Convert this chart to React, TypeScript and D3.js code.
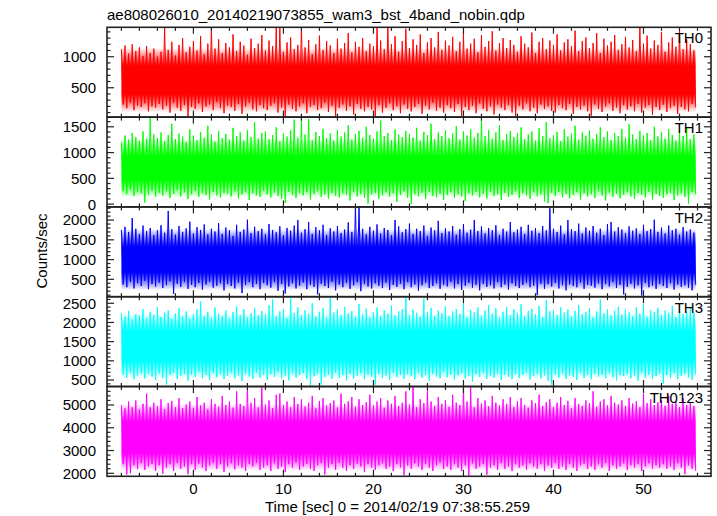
import React from "react";
import * as d3 from "d3";

const TITLE = "ae808026010_20140219073855_wam3_bst_4band_nobin.qdp";
const X_LABEL = "Time [sec] 0 = 2014/02/19 07:38:55.259";
const Y_LABEL = "Counts/sec";

const NAMES = ["TH0", "TH1", "TH2", "TH3", "TH0123"];
const COLORS = ["#ff0000", "#00ff00", "#0000ff", "#00ffff", "#ff00ff"];
const X_DOMAIN = [-9.6, 57.5];
const X_MAJOR = [0, 10, 20, 30, 40, 50];
const T_START = -8.0;
const T_STEP = 0.4;

const Y_DOMAINS = [
  [27, 1474],
  [-54, 1688],
  [60, 2334],
  [330, 2672],
  [1868, 5812],
];
const Y_MAJOR_STEP = [500, 500, 500, 500, 1000];
const Y_MINOR_STEP = [100, 100, 100, 100, 200];
// dense (solid) part of each light curve: [low, high] counts/sec
const CORE = [
  [250, 1000],
  [300, 1100],
  [450, 1550],
  [780, 2000],
  [2500, 4650],
];

const TH0_HI = [
  1120, 1180, 1050, 1200, 1090, 1150, 1010, 1170, 1060, 1130,
  1000, 1080, 1480, 1110, 1240, 1020, 1190, 1300, 1070, 1160,
  1250, 1100, 1330, 1040, 1210, 1480, 1130, 1280, 1060, 1220,
  1150, 1360, 1090, 1240, 1180, 1030, 1290, 1140, 1210, 1350,
  1100, 1260, 1170, 1480, 1460, 1080, 1230, 1310, 1120, 1190,
  1480, 1150, 1270, 1040, 1200, 1340, 1110, 1250, 1180, 1060,
  1290, 1130, 1220, 1380, 1070, 1240, 1160, 1300, 1090, 1210,
  1170, 1480, 1260, 1120, 1480, 1200, 1330, 1080, 1250, 1450,
  1140, 1280, 1190, 1360, 1060, 1230, 1300, 1150, 1400, 1110,
  1260, 1180, 1320, 1090, 1240, 1380, 1130, 1210, 1290, 1070,
  1350, 1160, 1250, 1410, 1100, 1220, 1300, 1140, 1270, 1190,
  1080, 1330, 1210, 1150, 1390, 1060, 1240, 1300, 1120, 1260,
  1190, 1360, 1100, 1230, 1280, 1170, 1420, 1090, 1250, 1310,
  1140, 1220, 1380, 1060, 1290, 1180, 1240, 1350, 1110, 1200,
  1320, 1150, 1270, 1090, 1480, 1210, 1340, 1130, 1260, 1190,
  1400, 1080, 1230, 1310, 1160, 1450, 1120, 1280, 1200, 1100,
];
const TH0_LO = [
  230, 170, 260, 140, 210, 190, 250, 120, 200, 180,
  240, 150, 210, 100, 260, 180, 130, 220, 40, 190,
  160, 250, 110, 200, 230, 140, 270, 170, 90, 210,
  190, 130, 240, 80, 200, 260, 150, 120, 220, 170,
  140, 210, 250, 100, 180, 40, 230, 160, 120, 200,
  250, 90, 190, 220, 140, 170, 260, 110, 210, 30,
  180, 230, 130, 200, 70, 240, 160, 120, 190, 150,
  40, 220, 100, 180, 250, 140, 200, 90, 230, 160,
  120, 190, 240, 80, 210, 150, 260, 130, 180, 100,
  220, 170, 110, 240, 50, 190, 140, 210, 90, 250,
  160, 120, 200, 70, 230, 180, 140, 220, 100, 30,
  210, 150, 250, 120, 180, 90, 230, 160, 200, 130,
  100, 220, 170, 140, 240, 80, 190, 150, 210, 120,
  50, 230, 160, 110, 200, 250, 130, 180, 90, 220,
  150, 200, 120, 240, 100, 180, 220, 60, 190, 140,
  230, 110, 170, 210, 80, 190, 150, 120, 240, 180,
];

const TH1_HI = [
  1200, 1330, 1250, 1380, 1300, 1230, 1410, 1270, 1670, 1350,
  1280, 1390, 1220, 1340, 1560, 1260, 1370, 1310, 1200, 1450,
  1330, 1240, 1400, 1290, 1520, 1350, 1210, 1420, 1280, 1360,
  1250, 1480, 1320, 1390, 1230, 1440, 1300, 1590, 1270, 1380,
  1410, 1260, 1340, 1490, 1220, 1370, 1310, 1430, 1640, 1290,
  1660, 1350, 1650, 1240, 1400, 1320, 1460, 1280, 1370, 1230,
  1440, 1310, 1390, 1530, 1250, 1360, 1420, 1290, 1500, 1340,
  1270, 1410, 1620, 1320, 1380, 1240, 1450, 1350, 1300, 1420,
  1360, 1290, 1480, 1230, 1400, 1340, 1560, 1260, 1390, 1320,
  1430, 1280, 1370, 1510, 1250, 1410, 1330, 1450, 1290, 1380,
  1660, 1320, 1440, 1270, 1390, 1530, 1240, 1360, 1420, 1300,
  1380, 1490, 1260, 1350, 1410, 1230, 1470, 1320, 1590, 1280,
  1340, 1400, 1220, 1450, 1310, 1370, 1520, 1250, 1390, 1330,
  1430, 1270, 1360, 1490, 1300, 1410, 1240, 1380, 1320, 1460,
  1290, 1550, 1350, 1260, 1420, 1330, 1380, 1240, 1500, 1310,
  1400, 1270, 1450, 1340, 1230, 1390, 1320, 1480, 1260, 1350,
];
const TH1_LO = [
  250, 190, 280, 160, 230, 210, 30, 180, 260, 140,
  220, 170, 250, 120, 200, 270, 150, 230, 100, 190,
  260, 140, 210, 180, 90, 240, 170, 130, 220, 200,
  150, 250, 110, 190, 230, 80, 210, 170, 140, 260,
  190, 130, 220, 160, 100, 20, 240, 180, 120, 210,
  170, 230, 90, 200, 250, 140, 190, 110, 220, 160,
  130, 210, 180, 70, 240, 150, 200, 120, 10, 190,
  220, 100, 170, 230, 140, 210, 40, 180, 250, 120,
  0, 190, 150, 220, 100, 240, 160, 130, 200, 80,
  180, 230, 120, 190, 150, 60, 210, 170, 240, 130,
  200, 110, 240, 160, 190, 80, 220, 140, 180, 250,
  120, 210, 170, 100, 230, 150, 190, 50, 20, 220,
  160, 240, 130, 200, 110, 180, 230, 90, 210, 150,
  190, 120, 250, 170, 70, 220, 140, 200, 110, 180,
  230, 150, 100, 210, 180, 130, 240, 90, 200, 160,
  120, 190, 220, 80, 170, 210, 140, 10, 230, 190,
];

const TH2_HI = [
  1750, 1830, 1700, 2050, 1780, 1640, 1860, 1720, 1800, 1620,
  1740, 1870, 1680, 2230, 1770, 1630, 1850, 1700, 1790, 1960,
  1660, 1820, 1750, 1890, 1640, 1780, 1710, 1920, 1650, 1810,
  1740, 1600, 1880, 1700, 1760, 2010, 1670, 1830, 1720, 1780,
  1640, 1900, 1750, 1690, 1840, 1610, 1800, 1730, 1860, 2000,
  1680, 1770, 1950, 1650, 1820, 1740, 1880, 1620, 1790, 1710,
  1850, 1670, 1760, 1940, 1700, 2350, 2350, 1780, 1640, 1830,
  1730, 1890, 1660, 1800, 1750, 1620, 2000, 1840, 1690, 1770,
  1910, 1650, 1780, 1720, 1860, 1600, 1810, 1740, 1980, 1670,
  1790, 1710, 1850, 1630, 1770, 1900, 1680, 1760, 2000, 1720,
  1840, 1660, 1800, 1740, 1870, 1620, 1780, 1710, 1950, 1690,
  1760, 1830, 1650, 1880, 1730, 1800, 1670, 1850, 1740, 2300,
  1780, 1700, 1860, 1640, 2000, 1770, 1720, 1910, 1660, 1810,
  1730, 1850, 1680, 1780, 1620, 1900, 1950, 1710, 1820, 1760,
  1670, 1840, 1730, 1790, 1650, 1880, 1720, 1770, 2010, 1700,
  1810, 1660, 1860, 1740, 1780, 1630, 1820, 1710, 1760, 1680,
];
const TH2_LO = [
  370, 300, 440, 270, 400, 330, 460, 250, 380, 320,
  420, 280, 350, 450, 130, 390, 310, 430, 260, 360,
  300, 410, 240, 370, 440, 290, 340, 400, 220, 380,
  330, 270, 420, 150, 360, 430, 300, 380, 250, 410,
  350, 290, 430, 210, 380, 140, 320, 400, 270, 340,
  420, 250, 360, 310, 120, 390, 330, 280, 440, 220,
  370, 300, 410, 260, 350, 430, 200, 380, 320, 270,
  400, 340, 280, 420, 230, 360, 310, 390, 250, 430,
  300, 370, 210, 350, 420, 280, 330, 400, 260, 360,
  320, 440, 270, 380, 230, 340, 410, 290, 360, 220,
  390, 310, 350, 270, 430, 300, 370, 240, 400, 330,
  280, 360, 420, 300, 340, 100, 390, 260, 380, 320,
  410, 270, 350, 220, 370, 330, 300, 420, 260, 360,
  340, 290, 400, 250, 380, 320, 430, 280, 360, 120,
  310, 390, 270, 350, 90, 410, 300, 340, 260, 380,
  330, 280, 400, 240, 370, 310, 350, 290, 220, 360,
];

const TH3_HI = [
  2250, 2150, 2300, 2080, 2220, 2180, 2350, 2110, 2280, 2200,
  2400, 2140, 2260, 2320, 2090, 2230, 2370, 2160, 2290, 2100,
  2210, 2340, 2550, 2170, 2280, 2120, 2390, 2230, 2160, 2310,
  2100, 2270, 2420, 2190, 2350, 2130, 2240, 2380, 2180, 2300,
  2220, 2450, 2600, 2160, 2290, 2340, 2110, 2690, 2250, 2400,
  2180, 2320, 2230, 2500, 2150, 2280, 2370, 2120, 2650, 2260,
  2340, 2190, 2410, 2240, 2300, 2150, 2480, 2210, 2360, 2130,
  2270, 2390, 2160, 2320, 2230, 2440, 2180, 2290, 2350, 2690,
  2200, 2330, 2250, 2150, 2620, 2280, 2380, 2170, 2310, 2240,
  2420, 2160, 2290, 2350, 2220, 2500, 2140, 2330, 2260, 2390,
  2180, 2310, 2450, 2230, 2370, 2120, 2280, 2400, 2190, 2340,
  2250, 2480, 2170, 2300, 2360, 2210, 2430, 2140, 2580, 2290,
  2320, 2190, 2400, 2260, 2340, 2160, 2300, 2450, 2220, 2280,
  2370, 2130, 2290, 2600, 2240, 2350, 2180, 2310, 2410, 2200,
  2340, 2260, 2160, 2390, 2230, 2470, 2150, 2320, 2280, 2380,
  2190, 2310, 2250, 2430, 2140, 2360, 2220, 2290, 2400, 2260,
];
const TH3_LO = [
  640, 560, 700, 520, 620, 680, 540, 660, 590, 500,
  670, 550, 380, 630, 690, 530, 610, 660, 480, 640,
  580, 720, 540, 630, 500, 680, 570, 650, 520, 610,
  690, 540, 620, 470, 660, 590, 530, 700, 560, 630,
  510, 650, 580, 710, 540, 620, 490, 670, 560, 630,
  680, 520, 350, 600, 660, 380, 580, 640, 530, 700,
  560, 630, 490, 670, 540, 610, 680, 520, 640, 580,
  380, 660, 550, 620, 500, 690, 570, 630, 530, 650,
  600, 520, 680, 560, 630, 480, 660, 590, 540, 710,
  570, 640, 500, 620, 680, 540, 600, 460, 650, 580,
  690, 530, 620, 560, 670, 500, 640, 580, 520, 660,
  550, 630, 690, 510, 600, 660, 540, 620, 480, 380,
  640, 560, 670, 530, 620, 580, 500, 690, 550, 630,
  520, 660, 590, 640, 540, 680, 570, 490, 630, 600,
  660, 540, 620, 480, 690, 560, 640, 530, 600, 670,
  400, 630, 550, 680, 520, 610, 660, 570, 500, 640,
];

const TH0123_HI = [
  5000, 4850, 5150, 4900, 5200, 4800, 5050, 5500, 4900, 5100,
  4950, 5250, 4820, 5080, 5180, 4900, 5300, 4850, 5020, 5150,
  4880, 5350, 4980, 5100, 4800, 5250, 5050, 4920, 5400, 5000,
  5150, 4880, 5600, 5050, 4950, 5840, 5100, 5300, 4900, 5840,
  5020, 5200, 4860, 5450, 5500, 5000, 5150, 4900, 5350, 5050,
  5250, 4930, 5100, 5400, 4850, 5180, 5300, 4980, 5080, 5200,
  4900, 5500, 5050, 5160, 5350, 4920, 5250, 5000, 5120, 5450,
  4980, 5150, 5300, 4880, 5200, 5050, 5400, 4950, 5100, 5600,
  5020, 5800, 4900, 5250, 5080, 5700, 5150, 4960, 5350, 5050,
  5200, 4920, 5450, 5100, 5000, 5800, 5150, 5800, 4900, 5300,
  5060, 5200, 4940, 5400, 5100, 4980, 5250, 5050, 5350, 4900,
  5150, 5300, 5000, 4880, 5200, 5080, 5450, 4950, 5120, 5250,
  4900, 5100, 5350, 5000, 5180, 4850, 5300, 5050, 4960, 5200,
  5080, 5600, 4920, 5150, 5250, 4980, 5400, 5100, 5020, 5200,
  4950, 5300, 5060, 5160, 4900, 5500, 5080, 5250, 5000, 5120,
  5200, 4960, 5400, 5050, 5150, 4900, 5300, 5000, 5100, 4950,
];
const TH0123_LO = [
  2400, 1950, 2000, 2350, 2200, 2450, 2150, 2300, 2420, 2100,
  2350, 1980, 2250, 2400, 2100, 2460, 2200, 2300, 1960, 2400,
  2150, 2430, 2250, 2100, 2350, 2470, 2200, 2400, 2050, 2300,
  2440, 2180, 2350, 2250, 2100, 2400, 2300, 2460, 2150, 2250,
  2350, 2100, 2440, 2200, 2300, 2050, 2400, 2250, 2470, 2150,
  2300, 2420, 2200, 2100, 2350, 2450, 1950, 2250, 2400, 2150,
  2460, 2250, 2100, 2350, 2200, 2430, 2300, 2050, 2400, 2250,
  2150, 2350, 2440, 2200, 2300, 2100, 2400, 2250, 1920, 2350,
  2200, 2440, 2300, 2150, 2400, 2250, 2100, 2350, 2470, 2200,
  2300, 2150, 2400, 2250, 2100, 2350, 1900, 2440, 2200, 2300,
  2400, 1940, 2250, 2350, 2150, 2460, 2200, 2300, 2100, 2400,
  2250, 2350, 2150, 2440, 2300, 2200, 2400, 2100, 2350, 2250,
  2460, 2200, 2300, 2150, 2400, 2250, 2100, 2350, 2430, 2200,
  2300, 2150, 2400, 2250, 2460, 2100, 2350, 2200, 2300, 2440,
  2150, 2350, 2250, 2400, 2100, 2300, 2440, 2200, 2350, 2250,
  2400, 2200, 2300, 2150, 2440, 2250, 1960, 2350, 2200, 2100,
];

const HI = [TH0_HI, TH1_HI, TH2_HI, TH3_HI, TH0123_HI];
const LO = [TH0_LO, TH1_LO, TH2_LO, TH3_LO, TH0123_LO];

const W = 717;
const H = 516;
const LEFT = 107;
const RIGHT = 711;
const TOP = 27.3;
const PANEL_H = 89.8;
const FONT = "'Liberation Sans', Arial, Helvetica, sans-serif";
const FS = 15;
const AXIS_COLOR = "#222";
const FADE = 9;

function range(a: number, b: number, step: number) {
  const out: number[] = [];
  const start = Math.ceil(a / step - 1e-9) * step;
  for (let v = start; v <= b + 1e-9; v += step) out.push(Math.round(v * 1000) / 1000);
  return out;
}

export default function App() {
  const x = d3.scaleLinear().domain(X_DOMAIN).range([LEFT, RIGHT]);
  const xMinor = range(X_DOMAIN[0], X_DOMAIN[1], 2);

  const panels = NAMES.map((name, p) => {
    const top = TOP + p * PANEL_H;
    const bottom = top + PANEL_H;
    const y = d3.scaleLinear().domain(Y_DOMAINS[p]).range([bottom, top]);
    const pts: [number, number][] = [];
    HI[p].forEach((h, i) => {
      const t = T_START + i * T_STEP;
      pts.push([t, h]);
      pts.push([t + T_STEP / 2, LO[p][i]]);
    });
    const line = d3
      .line<[number, number]>()
      .x((d) => x(d[0]))
      .y((d) => y(d[1]));
    const path = line(pts) || "";
    const tEnd = T_START + (HI[p].length - 0.5) * T_STEP;
    const majors = range(Y_DOMAINS[p][0], Y_DOMAINS[p][1], Y_MAJOR_STEP[p]);
    const minors = range(Y_DOMAINS[p][0], Y_DOMAINS[p][1], Y_MINOR_STEP[p]);
    return { name, p, top, bottom, y, path, tEnd, majors, minors };
  });

  return (
    <svg
      width={W}
      height={H}
      style={{ position: "absolute", left: 0, top: 0, background: "#fff" }}
      fontFamily={FONT}
    >
      <defs>
        {panels.map((pn) => {
          const [cLo, cHi] = CORE[pn.p];
          const hgt = pn.y(cLo) - pn.y(cHi) + 2 * FADE;
          const f = (2 * FADE) / hgt;
          return (
            <React.Fragment key={pn.p}>
              <clipPath id={`clip${pn.p}`}>
                <rect x={LEFT} y={pn.top} width={RIGHT - LEFT} height={PANEL_H} />
              </clipPath>
              <linearGradient id={`core${pn.p}`} x1="0" y1="0" x2="0" y2="1">
                <stop offset="0" stopColor={COLORS[pn.p]} stopOpacity={0} />
                <stop offset={f} stopColor={COLORS[pn.p]} stopOpacity={1} />
                <stop offset={1 - f} stopColor={COLORS[pn.p]} stopOpacity={1} />
                <stop offset="1" stopColor={COLORS[pn.p]} stopOpacity={0} />
              </linearGradient>
            </React.Fragment>
          );
        })}
      </defs>
      <rect x={0} y={0} width={W} height={H} fill="#fff" />
      <text x={107} y={20} fontSize={FS} fill="#000">
        {TITLE}
      </text>
      {panels.map((pn) => {
        const c = COLORS[pn.p];
        const [cLo, cHi] = CORE[pn.p];
        return (
          <g key={pn.p}>
            <g clipPath={`url(#clip${pn.p})`}>
              <rect
                x={x(T_START)}
                y={pn.y(cHi) - FADE}
                width={x(pn.tEnd) - x(T_START)}
                height={pn.y(cLo) - pn.y(cHi) + 2 * FADE}
                fill={`url(#core${pn.p})`}
              />
              <path d={pn.path} fill="none" stroke={c} strokeWidth={1.0} strokeLinejoin="miter" />
            </g>
            {xMinor.map((t) => {
              const major = X_MAJOR.includes(t);
              const len = major ? 6.5 : 3.5;
              return (
                <g key={`xt${t}`} stroke={AXIS_COLOR} strokeWidth={1.2}>
                  <line x1={x(t)} x2={x(t)} y1={pn.bottom} y2={pn.bottom - len} />
                  <line x1={x(t)} x2={x(t)} y1={pn.top} y2={pn.top + len} />
                </g>
              );
            })}
            {pn.minors.map((v) => {
              const major = pn.majors.includes(v);
              const len = major ? 7 : 3.5;
              const yy = pn.y(v);
              if (yy < pn.top + 0.5 || yy > pn.bottom - 0.5) return null;
              return (
                <g key={`yt${v}`} stroke={AXIS_COLOR} strokeWidth={1.2}>
                  <line x1={LEFT} x2={LEFT + len} y1={yy} y2={yy} />
                  <line x1={RIGHT} x2={RIGHT - len} y1={yy} y2={yy} />
                </g>
              );
            })}
            {pn.majors.map((v) => (
              <text
                key={`yl${v}`}
                x={96}
                y={pn.y(v)}
                dy="0.36em"
                textAnchor="end"
                fontSize={FS}
                fill="#000"
              >
                {v}
              </text>
            ))}
            <text x={703} y={pn.top + 16} textAnchor="end" fontSize={FS} fill="#000">
              {pn.name}
            </text>
            <rect
              x={LEFT}
              y={pn.top}
              width={RIGHT - LEFT}
              height={PANEL_H}
              fill="none"
              stroke={AXIS_COLOR}
              strokeWidth={1.6}
            />
          </g>
        );
      })}
      {X_MAJOR.map((t) => (
        <text key={`xl${t}`} x={x(t)} y={494} textAnchor="middle" fontSize={FS} fill="#000">
          {t}
        </text>
      ))}
      <text x={397.5} y={512} textAnchor="middle" fontSize={FS} fill="#000">
        {X_LABEL}
      </text>
      <text transform={`translate(47,251) rotate(-90)`} textAnchor="middle" fontSize={FS} fill="#000">
        {Y_LABEL}
      </text>
    </svg>
  );
}
